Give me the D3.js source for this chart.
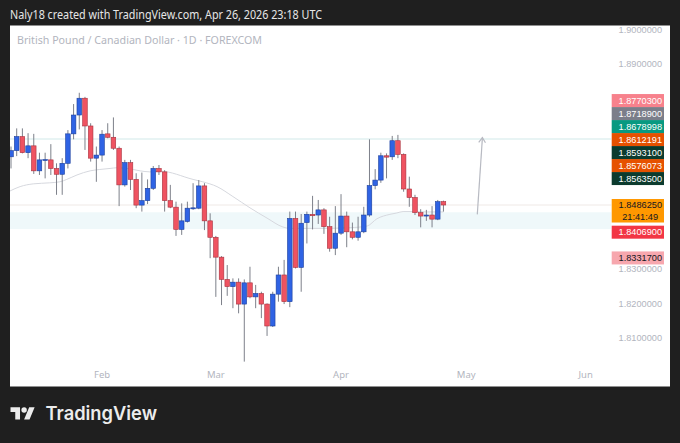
<!DOCTYPE html>
<html><head><meta charset="utf-8">
<script src="https://cdn.jsdelivr.net/npm/d3@7"></script>
<style>html,body{margin:0;padding:0;background:#1f1f1f;} svg{display:block}</style>
</head><body><svg id="c" width="680" height="443"></svg>
<script>
// ---------- DATA ----------
const dates = [
"2026-01-09","2026-01-12","2026-01-13","2026-01-14","2026-01-15","2026-01-16","2026-01-19","2026-01-20","2026-01-21","2026-01-22","2026-01-23","2026-01-26","2026-01-27","2026-01-28","2026-01-29","2026-01-30",
"2026-02-02","2026-02-03","2026-02-04","2026-02-05","2026-02-06","2026-02-09","2026-02-10","2026-02-11","2026-02-12","2026-02-13","2026-02-16","2026-02-17","2026-02-18","2026-02-19","2026-02-20","2026-02-23","2026-02-24","2026-02-25","2026-02-26","2026-02-27",
"2026-03-02","2026-03-03","2026-03-04","2026-03-05","2026-03-06","2026-03-09","2026-03-10","2026-03-11","2026-03-12","2026-03-13","2026-03-16","2026-03-17","2026-03-18","2026-03-19","2026-03-20","2026-03-23","2026-03-24","2026-03-25","2026-03-26","2026-03-27","2026-03-30","2026-03-31",
"2026-04-01","2026-04-02","2026-04-03","2026-04-06","2026-04-07","2026-04-08","2026-04-09","2026-04-10","2026-04-13","2026-04-14","2026-04-15","2026-04-16","2026-04-17","2026-04-20","2026-04-21","2026-04-22","2026-04-23","2026-04-24","2026-04-27"];
const open = [1.8627,1.8645,1.8686,1.8639,1.8659,1.8586,1.8618,1.8618,1.8593,1.8576,1.8608,1.8694,1.8749,1.8798,1.8717,1.8623,
1.8632,1.8694,1.8684,1.8652,1.8545,1.8610,1.8561,1.8486,1.8499,1.8535,1.8593,1.8583,1.8499,1.8480,1.8415,1.8438,1.8477,1.8477,1.8542,1.8440,
1.8392,1.8334,1.8269,1.8248,1.8261,1.8197,1.8259,1.8218,1.8228,1.8197,1.8133,1.8226,1.8282,1.8204,1.8447,1.8304,1.8435,1.8459,1.8457,1.8472,1.8423,1.8360,
1.8404,1.8454,1.8408,1.8392,1.8408,1.8457,1.8543,1.8559,1.8630,1.8627,1.8674,1.8634,1.8533,1.8508,1.8464,1.8454,1.8457,1.8445,1.8496];
const high = [1.8657,1.8710,1.8710,1.8696,1.8694,1.8639,1.8639,1.8664,1.8608,1.8623,1.8705,1.8781,1.8814,1.8802,1.8725,1.8657,
1.8705,1.8725,1.8742,1.8657,1.8618,1.8618,1.8579,1.8581,1.8561,1.8600,1.8603,1.8588,1.8545,1.8496,1.8491,1.8496,1.8550,1.8559,1.8550,1.8462,
1.8396,1.8337,1.8311,1.8272,1.8272,1.8269,1.8306,1.8253,1.8233,1.8199,1.8233,1.8306,1.8326,1.8467,1.8467,1.8460,1.8467,1.8513,1.8501,1.8477,1.8452,1.8483,
1.8518,1.8467,1.8435,1.8452,1.8481,1.8678,1.8591,1.8639,1.8637,1.8688,1.8691,1.8637,1.8569,1.8516,1.8474,1.8472,1.8483,1.8501,1.8499];
const low = [1.8593,1.8629,1.8637,1.8623,1.8577,1.8574,1.8564,1.8574,1.8516,1.8516,1.8593,1.8678,1.8707,1.8647,1.8613,1.8554,
1.8613,1.8681,1.8647,1.8483,1.8540,1.8530,1.8477,1.8467,1.8489,1.8530,1.8574,1.8467,1.8477,1.8396,1.8399,1.8435,1.8472,1.8474,1.8413,1.8331,
1.8218,1.8194,1.8221,1.8185,1.8170,1.8029,1.8214,1.8185,1.8156,1.8104,1.8130,1.8204,1.8197,1.8188,1.8301,1.8233,1.8374,1.8415,1.8431,1.8402,1.8350,1.8340,
1.8399,1.8363,1.8386,1.8382,1.8404,1.8452,1.8532,1.8551,1.8564,1.8618,1.8623,1.8525,1.8481,1.8457,1.8421,1.8440,1.8421,1.8442,1.8467];
const close = [1.8645,1.8686,1.8639,1.8659,1.8586,1.8618,1.8619,1.8593,1.8576,1.8608,1.8694,1.8749,1.8798,1.8717,1.8623,1.8632,
1.8693,1.8684,1.8652,1.8545,1.8610,1.8561,1.8486,1.8499,1.8535,1.8593,1.8583,1.8499,1.8480,1.8415,1.8440,1.8477,1.8478,1.8542,1.8440,1.8392,
1.8334,1.8269,1.8248,1.8261,1.8197,1.8259,1.8218,1.8228,1.8197,1.8133,1.8226,1.8282,1.8204,1.8447,1.8304,1.8433,1.8459,1.8455,1.8472,1.8423,1.8360,1.8404,
1.8454,1.8408,1.8392,1.8408,1.8457,1.8543,1.8559,1.8630,1.8626,1.8674,1.8634,1.8533,1.8508,1.8464,1.8454,1.8457,1.8445,1.8496,1.848625];

// moving average, read at bar positions (bar index, value)
const maIndex  = [-0.2,1.6,3.9,6.8,8.6,9.8,11.6,13.9,15.6,17.4,18.6,20.4,22.7,24.4,26.2,32.0,33.7,36.2,39.0,42.0,45.0,47.8,49.0,54.3,59.6,62.6,64.3,66.6,67.8,68.9,71.4,73.2,76.0];
const maValues = [1.8527,1.8540,1.8548,1.8551,1.8554,1.8561,1.8574,1.8586,1.8590,1.8593,1.8595,1.8593,1.8586,1.8583,1.8585,1.8561,1.8554,1.8540,1.8511,1.8478,1.8448,1.8422,1.8418,1.8418,1.8420,1.8425,1.8446,1.8459,1.8463,1.8467,1.8467,1.8466,1.8466];

// visible price-scale ticks (the others are hidden under the price labels)
const yTicks = [1.81,1.82,1.83,1.89,1.90];
const monthLabels = ["Feb","Mar","Apr","May","Jun"];
const monthStarts = ["2026-02-02","2026-03-02","2026-04-01","2026-05-01","2026-06-01"];

const stackPrices = [1.8770300,1.8718900,1.8678998,1.8612191,1.8593100,1.8576073,1.8563500];
const stackColors = ["#f7818c","#7b7e8a","#089981","#e65100","#0c3b2e","#e65100","#0c3b2e"];
const lastPrice = 1.8486250;
const countdown = "21:41:49";
const lowerPrices = [1.8406900,1.8331700];
const lowerColors = ["#f23645","#f7a7ae"];
const lowerText = ["#ffffff","#131722"];

const zoneBand = [1.8416,1.8465];
const levelLine = 1.8679;
const arrowIndex = [81.95,82.85];
const arrowPrice = [1.8459,1.8683];

const header = "Naly18 created with TradingView.com, Apr 26, 2026 23:18 UTC";
const subtitle = "British Pound / Canadian Dollar \u00b7 1D \u00b7 FOREXCOM";

// ---------- LAYOUT ----------
const svg = d3.select("#c");
const W = 680, H = 443;
const panel = {x:10, y:25.5, w:660, h:361};
const plotRight = 611.5;
const FONT = "'Noto Sans', 'Open Sans', sans-serif";
const NUMFONT = "'Liberation Sans', Arial, sans-serif";

const dayMs = 86400000;
function tradingIndex(ds){
  const t0 = Date.parse(dates[0]+"T00:00:00Z"), t = Date.parse(ds+"T00:00:00Z");
  let n = 0;
  for (let d = t0; d < t; d += dayMs){ const wd = new Date(d+dayMs).getUTCDay(); if (wd!==0 && wd!==6) n++; }
  return n;
}
const x = d3.scaleLinear().domain([0,101]).range([11, 11+101*5.69]);
const y = d3.scaleLinear().domain([1.81,1.89]).range([337.3,63.3]);

svg.append("rect").attr("width",W).attr("height",H).attr("fill","#1f1f1f");
svg.append("rect").attr("x",panel.x).attr("y",panel.y).attr("width",panel.w).attr("height",panel.h).attr("fill","#ffffff");

// header texts
svg.append("text").attr("x",10).attr("y",19).attr("fill","#e6e6e6").attr("font-family",FONT)
  .attr("font-size",12).attr("textLength",312).attr("lengthAdjust","spacingAndGlyphs").text(header);
svg.append("text").attr("x",17).attr("y",44).attr("fill","#b2b5be").attr("font-family",FONT)
  .attr("font-size",11).attr("textLength",245).attr("lengthAdjust","spacingAndGlyphs").text(subtitle);

// plot clip
svg.append("defs").append("clipPath").attr("id","plotclip").append("rect")
  .attr("x",panel.x).attr("y",panel.y).attr("width",plotRight-panel.x).attr("height",panel.h);
const g = svg.append("g").attr("clip-path","url(#plotclip)");

// zone band + level line
g.append("rect").attr("x",panel.x).attr("width",plotRight-panel.x)
  .attr("y",y(zoneBand[1])).attr("height",y(zoneBand[0])-y(zoneBand[1])).attr("fill","#eff8fa");
g.append("line").attr("x1",panel.x).attr("x2",plotRight).attr("y1",y(levelLine)).attr("y2",y(levelLine))
  .attr("stroke","#e1f1f1").attr("stroke-width",1.5);
// last price line
g.append("line").attr("x1",panel.x).attr("x2",plotRight).attr("y1",y(lastPrice)).attr("y2",y(lastPrice))
  .attr("stroke","#efe9e6").attr("stroke-width",1);

// MA
g.append("path").datum(maIndex.map((v,i)=>[v,maValues[i]]))
  .attr("d", d3.line().x(d=>x(d[0])).y(d=>y(d[1])).curve(d3.curveMonotoneX))
  .attr("fill","none").attr("stroke","#d6d8de").attr("stroke-width",1);

// candles
const bars = dates.map((d,i)=>({i, o:open[i], h:high[i], l:low[i], c:close[i]}));
const cg = g.append("g");
cg.selectAll("line.w").data(bars).join("line").attr("class","w")
  .attr("x1",d=>x(d.i)).attr("x2",d=>x(d.i)).attr("y1",d=>y(d.h)).attr("y2",d=>y(d.l))
  .attr("stroke","#7d808a").attr("stroke-width",1);
const bw = 4.6;
cg.selectAll("rect.b").data(bars).join("rect").attr("class","b")
  .attr("x",d=>x(d.i)-bw/2).attr("width",bw)
  .attr("y",d=>y(Math.max(d.o,d.c)))
  .attr("height",d=>Math.max(1,Math.abs(y(d.o)-y(d.c))))
  .attr("fill",d=>d.c>=d.o?"#2f63e4":"#ef5361")
  .attr("stroke",d=>d.c>=d.o?"#1c3f9c":"#a8323f").attr("stroke-width",0.6);

// arrow
const ax0=x(arrowIndex[0]), ay0=y(arrowPrice[0]), ax1=x(arrowIndex[1]), ay1=y(arrowPrice[1]);
g.append("line").attr("x1",ax0).attr("y1",ay0).attr("x2",ax1).attr("y2",ay1).attr("stroke","#b8bac2").attr("stroke-width",1.2);
const ang = Math.atan2(ay0-ay1, ax0-ax1), hl = 6;
g.append("path").attr("d", `M${ax1+hl*Math.cos(ang-0.6)},${ay1+hl*Math.sin(ang-0.6)}L${ax1},${ay1}L${ax1+hl*Math.cos(ang+0.6)},${ay1+hl*Math.sin(ang+0.6)}`)
  .attr("fill","none").attr("stroke","#b8bac2").attr("stroke-width",1.2);

// y axis ticks
const axisR = 662;
svg.append("g").selectAll("text").data(yTicks).join("text")
  .attr("x",axisR).attr("y",d=>y(d)+3.6).attr("text-anchor","end")
  .attr("font-family",NUMFONT).attr("font-size",9.2).attr("fill","#b2b5be")
  .text(d=>d.toFixed(7));

// x axis
svg.append("g").selectAll("text").data(monthLabels).join("text")
  .attr("x",(d,i)=>x(tradingIndex(monthStarts[i]))).attr("y",378).attr("text-anchor","middle")
  .attr("font-family",FONT).attr("font-size",9.5).attr("fill","#b2b5be").text(d=>d);

// price labels stack
const LH = 13, bx = 611.7, bwid = 52.3;
let prevY = Infinity;
const stack = stackPrices.map((p,i)=>({p,col:stackColors[i]})).reverse().map(d=>{
  let cy = Math.min(y(d.p), prevY - LH); prevY = cy; return {...d, cy};
});
const lg = svg.append("g");
function label(cy, bg, fg, txt){
  lg.append("rect").attr("x",bx).attr("y",cy-LH/2).attr("width",bwid).attr("height",LH).attr("fill",bg);
  lg.append("text").attr("x",axisR).attr("y",cy+3.3).attr("text-anchor","end")
    .attr("font-family",NUMFONT).attr("font-size",9.2).attr("fill",fg).text(txt);
}
stack.forEach(d=>label(d.cy,d.col,"#ffffff",d.p.toFixed(7)));
// last price with countdown
const ly = y(lastPrice);
lg.append("rect").attr("x",bx).attr("y",ly-6).attr("width",bwid).attr("height",23.5).attr("fill","#ff9800");
lg.append("text").attr("x",axisR).attr("y",ly+3.3).attr("text-anchor","end")
  .attr("font-family",NUMFONT).attr("font-size",9.2).attr("fill","#131722").text(lastPrice.toFixed(7));
lg.append("text").attr("x",axisR-4).attr("y",ly+14.5).attr("text-anchor","end")
  .attr("font-family",NUMFONT).attr("font-size",9.2).attr("fill","#131722").text(countdown);
lowerPrices.forEach((p,i)=>label(y(p),lowerColors[i],lowerText[i],p.toFixed(7)));

// logo
const logo = svg.append("g").attr("transform","translate(10.5,404.5) scale(0.68)").attr("fill","#ececec");
logo.append("path").attr("d","M14 22H7V11H0V4h14v18zM28 22h-8l7.5-18h8L28 22z");
logo.append("circle").attr("cx",20).attr("cy",8).attr("r",4);
svg.append("text").attr("x",45.5).attr("y",420).attr("fill","#ececec").attr("font-family","Inter, 'Noto Sans', sans-serif")
  .attr("font-size",19).attr("font-weight",600).attr("textLength",111.5).attr("lengthAdjust","spacingAndGlyphs").text("TradingView");
</script></body></html>
